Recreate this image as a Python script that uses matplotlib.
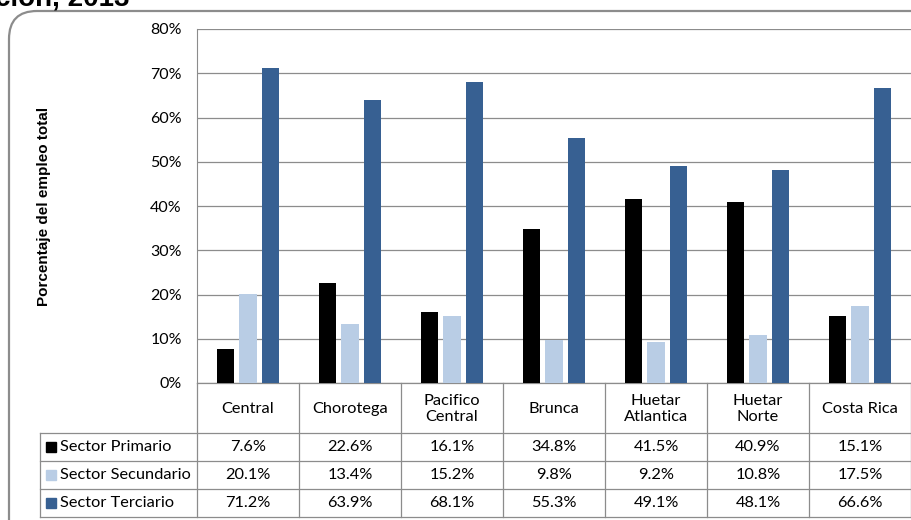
import numpy as np
import matplotlib.pyplot as plt
from matplotlib.patches import FancyBboxPatch, Rectangle

# datos
regiones = ['Central', 'Chorotega', 'Pacifico\nCentral', 'Brunca',
            'Huetar\nAtlantica', 'Huetar\nNorte', 'Costa Rica']
primario = [7.6, 22.6, 16.1, 34.8, 41.5, 40.9, 15.1]
secundario = [20.1, 13.4, 15.2, 9.8, 9.2, 10.8, 17.5]
terciario = [71.2, 63.9, 68.1, 55.3, 49.1, 48.1, 66.6]
series = ['Sector Primario', 'Sector Secundario', 'Sector Terciario']
colores = ['#000000', '#B9CDE5', '#376092']
yticks = [0, 10, 20, 30, 40, 50, 60, 70, 80]

plt.rcParams['font.family'] = ['Lato', 'DejaVu Sans']
W, H = 911, 520
fig = plt.figure(figsize=(W / 100, H / 100), dpi=100)

# fondo en pixeles (marco redondeado, titulo cortado, tabla)
bg = fig.add_axes([0, 0, 1, 1])
bg.set_xlim(0, W)
bg.set_ylim(H, 0)
bg.axis('off')
bg.add_patch(FancyBboxPatch((9, 11), 1000, 600, boxstyle='round,pad=0,rounding_size=28',
                            fc='white', ec='#8c8c8c', lw=1.6))
bg.text(-5, 5, 'ción, 2013', fontsize=20, weight='bold', va='baseline',
        family='Liberation Sans')

# grafico de barras
left, top, bottom = 197, 29, 383
ax = fig.add_axes([left / W, (H - bottom) / H, (W - left) / W, (bottom - top) / H])
ax.set_facecolor('none')
x = np.arange(len(regiones))
valores = [primario, secundario, terciario]
for k, (vals, c) in enumerate(zip(valores, colores)):
    ax.bar(x + (k - 1) * 0.22, vals, width=0.175, color=c, zorder=3)
ax.set_xlim(-0.5, len(regiones) - 0.5)
ax.set_ylim(0, 80)
ax.set_yticks(yticks)
ax.set_yticklabels([f'{v}%' for v in yticks], fontsize=11.5)
ax.set_xticks([])
ax.tick_params(axis='y', length=0, pad=11)
ax.grid(axis='y', color='#8c8c8c', lw=0.9, zorder=0)
for s in ['top', 'right', 'bottom']:
    ax.spines[s].set_visible(False)
ax.spines['left'].set_color('#8c8c8c')

fig.text(44 / W, (H - 206) / H, 'Porcentaje del empleo total', rotation=90,
         ha='center', va='center', fontsize=11, weight='bold', family='Liberation Sans')

# tabla de datos
n = len(regiones)
colw = (W - left) / n
edges = [left + i * colw for i in range(n + 1)]
rows = [bottom, 433, 461, 489, 517]
lc = '#8c8c8c'
for e in edges:
    bg.plot([e, e], [bottom, rows[-1]], color=lc, lw=0.9)
bg.plot([40, 40], [rows[1], rows[-1]], color=lc, lw=0.9)
bg.plot([left, W], [bottom, bottom], color=lc, lw=0.9)
for r in rows[1:]:
    bg.plot([40, W], [r, r], color=lc, lw=0.9)

for i, name in enumerate(regiones):
    bg.text((edges[i] + edges[i + 1]) / 2, (rows[0] + rows[1]) / 2 + 1, name,
            ha='center', va='center', fontsize=11.8, linespacing=1.15)
for j, (nombre, vals, c) in enumerate(zip(series, valores, colores)):
    yc = (rows[j + 1] + rows[j + 2]) / 2
    bg.add_patch(Rectangle((46, yc - 5), 10, 10, color=c))
    bg.text(60, yc, nombre, ha='left', va='center', fontsize=11.8)
    for i, v in enumerate(vals):
        bg.text((edges[i] + edges[i + 1]) / 2, yc, f'{v:.1f}%',
                ha='center', va='center', fontsize=11.8)

fig.savefig('out.png', dpi=100)
